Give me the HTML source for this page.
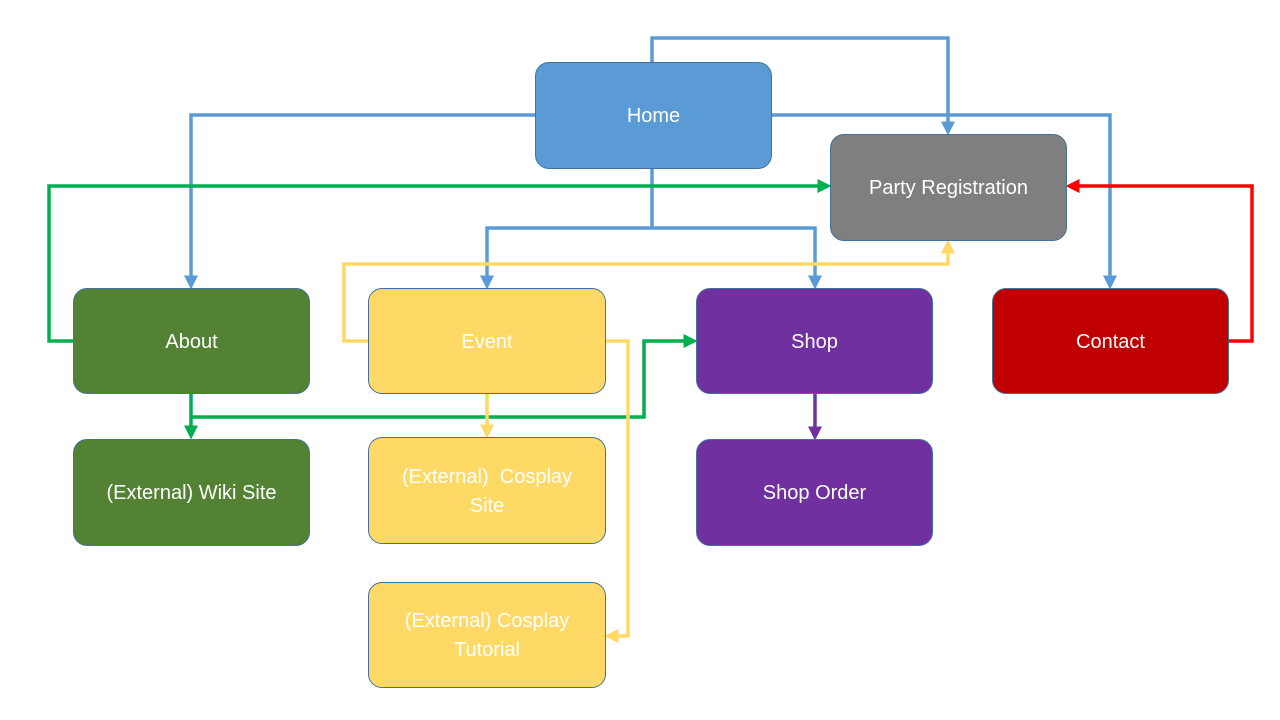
<!DOCTYPE html>
<html><head><style>
body{margin:0;width:1280px;height:720px;background:#fff;overflow:hidden;position:relative;font-family:"Liberation Sans",sans-serif}
.b{position:absolute;box-sizing:border-box;border:1px solid #41719c;border-radius:14px;color:#fff;font-size:20px;display:flex;align-items:center;justify-content:center;text-align:center;line-height:29px;padding:2px 20px 0}
svg{position:absolute;left:0;top:0}
</style></head><body>
<svg width="1280" height="720" fill="none" stroke-width="3.5">
<defs>
<marker id="mb" markerWidth="4" markerHeight="4" refX="3" refY="2" orient="auto"><path d="M0,0L4,2L0,4z" fill="#5b9bd5" stroke="none"/></marker>
<marker id="mg" markerWidth="4" markerHeight="4" refX="3" refY="2" orient="auto"><path d="M0,0L4,2L0,4z" fill="#00b050" stroke="none"/></marker>
<marker id="my" markerWidth="4" markerHeight="4" refX="3" refY="2" orient="auto"><path d="M0,0L4,2L0,4z" fill="#ffd966" stroke="none"/></marker>
<marker id="mr" markerWidth="4" markerHeight="4" refX="3" refY="2" orient="auto"><path d="M0,0L4,2L0,4z" fill="#ff0000" stroke="none"/></marker>
<marker id="mp" markerWidth="4" markerHeight="4" refX="3" refY="2" orient="auto"><path d="M0,0L4,2L0,4z" fill="#7030a0" stroke="none"/></marker>
</defs>
<g stroke="#5b9bd5">
<path d="M652,62V38H948V132" marker-end="url(#mb)"/>
<path d="M535,115H191V286" marker-end="url(#mb)"/>
<path d="M772,115H1110V286" marker-end="url(#mb)"/>
<path d="M652,169V228H487V286" marker-end="url(#mb)"/>
<path d="M652,228H815V286" marker-end="url(#mb)"/>
</g>
<g stroke="#00b050">
<path d="M73,341H49V186H828" marker-end="url(#mg)"/>
<path d="M191,394V436" marker-end="url(#mg)"/>
<path d="M191,417H644V341H694" marker-end="url(#mg)"/>
</g>
<g stroke="#ffd966">
<path d="M368,341H344V264H948V243" marker-end="url(#my)"/>
<path d="M487,394V435" marker-end="url(#my)"/>
<path d="M606,341H628V636H608" marker-end="url(#my)"/>
</g>
<path stroke="#ff0000" d="M1229,341H1252V186H1069" marker-end="url(#mr)"/>
<path stroke="#7030a0" d="M815,394V437" marker-end="url(#mp)"/>
</svg>
<div class="b" style="left:535px;top:62px;width:237px;height:107px;background:#5b9bd5">Home</div>
<div class="b" style="left:830px;top:134px;width:237px;height:107px;background:#7f7f7f">Party Registration</div>
<div class="b" style="left:73px;top:288px;width:237px;height:106px;background:#548235">About</div>
<div class="b" style="left:368px;top:288px;width:238px;height:106px;background:#ffd966">Event</div>
<div class="b" style="left:696px;top:288px;width:237px;height:106px;background:#7030a0">Shop</div>
<div class="b" style="left:992px;top:288px;width:237px;height:106px;background:#c00000">Contact</div>
<div class="b" style="left:73px;top:439px;width:237px;height:107px;background:#548235">(External) Wiki Site</div>
<div class="b" style="left:368px;top:437px;width:238px;height:107px;background:#ffd966">(External)&nbsp; Cosplay Site</div>
<div class="b" style="left:696px;top:439px;width:237px;height:107px;background:#7030a0">Shop Order</div>
<div class="b" style="left:368px;top:582px;width:238px;height:106px;background:#ffd966">(External) Cosplay Tutorial</div>
</body></html>
